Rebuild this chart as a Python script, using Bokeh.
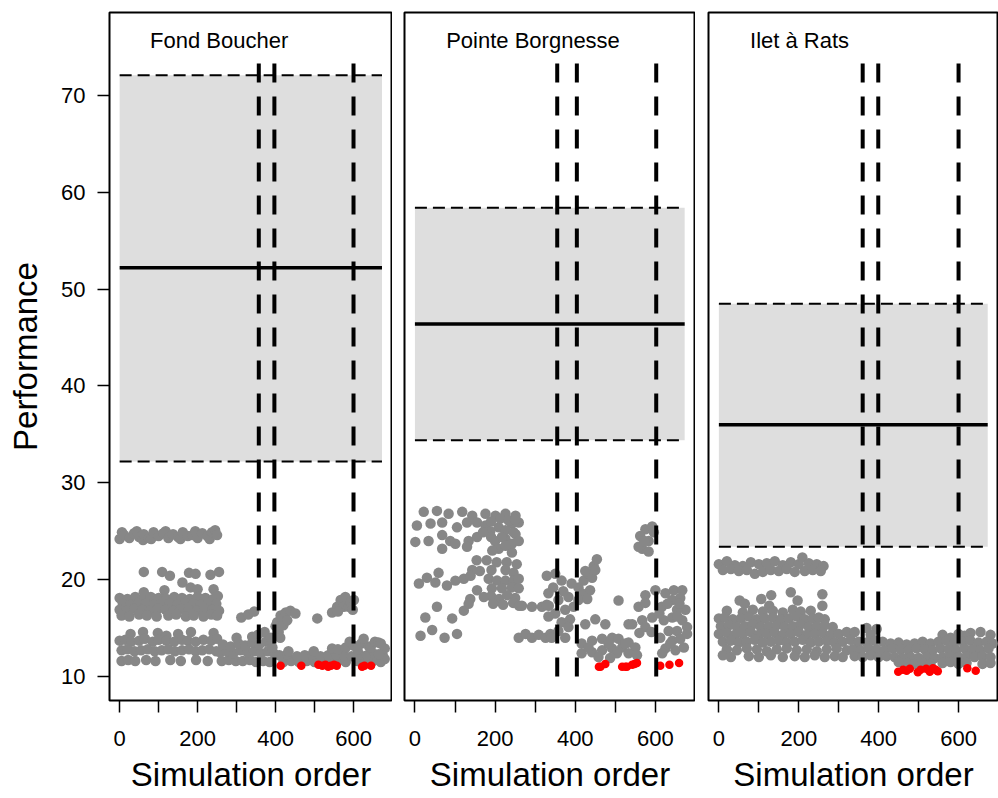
from bokeh.plotting import figure
from bokeh.layouts import row
from bokeh.models import FixedTicker, Range1d
from bokeh.core.properties import value
from bokeh.embed import file_html
from bokeh.resources import INLINE

FONT = "Liberation Sans"

SITES = ["Fond Boucher", "Pointe Borgnesse", "Ilet à Rats"]
BAND_LOW = [32.2, 34.4, 23.4]
BAND_HIGH = [72.1, 58.4, 48.5]
BAND_MEAN = [52.2, 46.4, 36.0]
BREAKS = [[357, 397, 600], [355, 404, 602], [360, 399, 600]]
N_SIM = 673
X_TICKS = [0, 200, 400, 600]
X_MINOR = [100, 300, 500]
Y_TICKS = [10, 20, 30, 40, 50, 60, 70]

# ---------------- Fond Boucher ----------------
GRAY_1 = [
    (0, 24.2), (6, 24.9), (12, 24.6), (25, 24.3), (37, 24.8), (44, 25.0), (50, 24.4), (60, 24.1),
    (62, 24.7), (75, 24.3), (81, 24.2), (87, 24.9), (100, 24.5), (112, 24.8), (118, 25.0), (125, 24.3),
    (137, 24.7), (150, 24.4), (156, 24.2), (162, 24.9), (175, 24.5), (187, 24.6), (194, 25.0), (200, 24.3),
    (212, 24.8), (225, 24.5), (231, 24.2), (237, 24.9), (245, 25.1), (250, 24.6),
    (62, 20.8), (109, 20.8), (129, 20.4), (178, 20.7), (195, 20.6), (233, 20.5), (255, 20.8),
    (161, 19.7), (182, 19.2), (200, 19.0), (241, 19.0), (62, 18.7), (115, 18.9),
    (0, 18.1), (20, 18.0), (40, 18.2), (60, 18.0), (80, 18.2), (100, 18.1), (120, 18.0), (140, 18.2),
    (160, 18.1), (180, 18.0), (200, 18.2), (220, 18.1), (240, 18.0), (252, 18.3),
    (8, 17.5), (28, 17.4), (48, 17.6), (68, 17.5), (88, 17.4), (108, 17.6), (128, 17.5), (148, 17.4),
    (168, 17.6), (188, 17.5), (208, 17.4), (228, 17.6), (248, 17.5),
    (0, 16.9), (18, 16.8), (38, 17.0), (58, 16.9), (78, 16.8), (98, 17.0), (118, 16.9), (138, 16.8),
    (158, 17.0), (178, 16.9), (198, 16.8), (218, 17.0), (238, 16.9), (255, 16.8),
    (5, 16.3), (25, 16.2), (50, 16.4), (70, 16.3), (95, 16.2), (125, 16.3), (145, 16.4), (170, 16.2),
    (190, 16.3), (215, 16.2), (235, 16.4), (250, 16.3),
    (312, 16.1), (330, 16.4), (345, 16.7),
    (28, 14.4), (60, 14.6), (98, 14.5), (120, 14.2), (150, 14.4), (183, 14.6), (241, 14.5),
    (0, 13.7), (15, 13.8), (30, 13.6), (50, 13.7), (65, 13.9), (85, 13.6), (100, 13.8), (120, 13.7),
    (140, 13.6), (160, 13.8), (175, 13.7), (195, 13.6), (215, 13.8), (235, 13.7), (250, 13.9),
    (5, 12.7), (20, 12.8), (38, 12.6), (55, 12.7), (72, 12.8), (90, 12.6), (108, 12.7), (125, 12.8),
    (142, 12.6), (160, 12.7), (178, 12.8), (195, 12.6), (212, 12.7), (230, 12.8), (248, 12.6),
    (5, 11.6), (22, 11.7), (40, 11.6), (68, 11.7), (92, 11.6), (130, 11.7), (157, 11.6), (196, 11.7), (226, 11.6),
    (262, 11.6), (280, 11.7), (298, 11.6), (316, 11.6), (334, 11.7), (350, 11.5), (368, 11.6), (385, 11.5),
    (258, 12.5), (275, 12.6), (292, 12.4), (310, 12.7), (328, 12.5), (345, 12.6), (362, 12.4), (380, 12.6), (398, 12.3),
    (265, 13.3), (285, 13.1), (305, 13.4), (322, 13.2), (340, 13.5), (358, 13.3), (375, 13.6), (392, 13.0),
    (300, 14.0), (340, 14.1), (355, 14.3), (372, 14.6), (388, 14.0),
    (400, 15.2), (404, 15.6), (408, 14.6), (413, 16.3), (417, 15.9), (420, 15.3), (426, 16.6), (430, 15.8),
    (438, 16.8), (451, 16.5), (412, 14.0),
    (507, 16.0),
    (545, 16.6), (558, 17.2), (567, 17.9), (575, 17.2), (579, 18.2), (588, 17.2), (592, 17.7), (601, 17.9),
    (598, 16.9), (560, 16.7),
    (420, 11.5), (440, 11.6), (460, 11.5), (480, 11.6), (500, 11.5), (520, 11.6), (540, 11.5), (560, 11.6),
    (580, 11.5), (610, 11.6), (630, 11.5), (650, 11.6), (670, 11.5), (680, 11.8),
    (410, 12.2), (430, 12.3), (455, 12.1), (475, 12.2), (495, 12.3), (515, 12.1), (535, 12.2), (555, 12.3),
    (575, 12.2), (595, 12.1), (615, 12.3), (635, 12.2), (655, 12.3), (675, 12.2),
    (433, 12.6), (498, 12.6), (545, 12.9), (560, 12.8), (580, 13.0), (600, 13.2), (620, 13.4), (626, 13.9),
    (640, 13.1), (644, 13.0), (655, 13.6), (664, 13.5), (670, 13.4), (680, 12.9), (665, 12.3), (590, 13.6), (610, 12.8),
]
RED_1 = [(413, 11.1), (466, 11.1), (510, 11.2), (520, 11.1), (528, 11.2), (535, 11.0), (542, 11.1),
         (550, 11.2), (557, 11.1), (622, 11.0), (628, 11.1), (645, 11.1)]

# ---------------- Pointe Borgnesse ----------------
GRAY_2 = [
    (22, 27.0), (55, 27.1), (84, 26.8), (118, 27.0), (143, 26.6), (176, 26.8), (201, 26.6), (226, 26.8), (251, 26.6),
    (5, 25.6), (39, 25.8), (68, 25.9), (105, 25.4), (130, 25.9), (155, 25.9), (176, 25.6), (209, 25.4), (242, 25.8), (259, 25.9),
    (1, 23.9), (34, 24.0), (68, 24.6), (88, 24.0), (101, 23.7), (134, 24.0), (155, 24.4), (200, 24.0), (226, 24.2),
    (251, 24.7), (209, 23.2), (68, 23.2), (130, 23.4), (193, 23.0), (242, 22.8),
    (213, 26.3), (234, 26.1), (226, 25.1), (246, 24.9), (217, 24.4), (242, 23.7), (259, 24.0), (226, 23.5),
    (190, 26.0), (188, 25.0), (190, 24.4), (170, 24.9), (250, 26.2),
    (154, 22.0), (179, 22.0), (204, 21.8), (229, 21.8), (254, 21.6),
    (143, 21.0), (162, 20.9), (191, 21.0), (226, 21.0), (246, 20.7),
    (10, 19.6), (30, 20.2), (51, 19.7), (59, 20.7), (80, 19.4), (101, 19.9), (122, 20.1), (139, 20.4),
    (184, 20.1), (205, 19.9), (226, 19.9), (247, 19.9), (259, 20.1),
    (192, 19.1), (217, 19.1), (242, 19.2), (259, 19.1),
    (190, 18.3), (210, 18.0), (230, 18.4), (250, 18.1), (195, 17.5), (220, 17.4), (245, 17.6), (260, 17.3),
    (267, 17.3), (292, 17.2), (317, 17.2), (334, 17.3),
    (138, 18.0), (155, 18.9), (172, 18.2), (134, 17.5),
    (26, 16.1), (55, 17.2), (93, 16.0), (122, 16.8), (14, 14.2), (43, 14.8), (74, 14.0), (105, 14.4),
    (259, 14.0), (276, 14.4), (292, 14.0), (309, 14.3), (326, 14.0), (338, 14.4),
    (329, 20.4), (350, 20.6), (366, 19.9), (391, 19.6), (333, 18.6), (358, 17.9), (383, 18.2), (329, 17.4),
    (350, 16.5), (375, 16.9), (396, 17.2), (333, 16.2), (366, 15.6), (387, 15.9), (358, 14.7), (383, 15.1),
    (375, 14.0), (341, 14.0), (345, 19.2), (370, 18.8),
    (408, 19.2), (421, 19.9), (433, 20.6), (446, 21.4), (454, 22.1), (425, 20.9), (442, 20.2), (416, 18.6),
    (437, 18.9), (408, 17.9), (450, 21.0), (430, 18.0),
    (508, 17.85),
    (575, 25.2), (592, 25.5), (562, 24.5), (583, 24.0), (567, 23.2), (583, 22.9), (558, 23.4), (596, 24.9), (572, 24.0),
    (575, 18.4), (600, 18.9), (625, 18.6), (646, 18.9), (667, 18.9), (642, 17.9), (662, 18.1), (675, 16.9),
    (616, 17.2), (654, 16.9), (558, 17.2), (575, 17.6), (542, 15.4), (567, 15.8), (592, 16.1), (621, 15.8),
    (642, 16.1), (667, 15.8), (679, 15.1), (575, 15.1), (633, 14.7), (654, 14.7), (612, 14.0), (642, 13.7),
    (662, 13.9), (679, 14.4), (625, 12.9), (650, 12.7), (671, 13.0), (617, 12.4), (637, 13.4), (533, 15.4),
    (630, 17.5), (660, 17.5), (610, 16.5), (655, 16.2), (590, 14.6), (560, 14.5),
    (425, 15.4), (450, 15.9), (475, 15.4), (416, 13.4), (442, 13.7), (467, 13.9), (492, 14.0), (508, 13.9),
    (533, 13.5), (550, 13.0), (416, 12.4), (442, 12.5), (467, 12.7), (492, 12.9), (517, 13.0), (533, 12.4),
    (554, 12.2), (433, 13.0), (483, 13.4), (504, 12.4), (525, 13.4), (458, 12.0), (487, 11.9),
]
RED_2 = [(459, 11.0), (463, 11.0), (475, 11.3), (517, 11.0), (525, 11.0), (529, 11.0), (542, 11.2),
         (548, 11.3), (554, 11.4), (612, 11.1), (635, 11.2), (659, 11.4)]

# ---------------- Ilet à Rats ----------------
GRAY_3 = [
    (0, 21.6), (20, 21.9), (40, 21.5), (60, 21.4), (80, 21.8), (100, 21.6), (120, 21.7), (140, 21.9),
    (160, 21.5), (180, 21.8), (200, 21.6), (209, 22.3), (225, 21.7), (245, 21.6), (262, 21.4),
    (10, 21.0), (30, 21.1), (50, 20.9), (70, 21.0), (90, 20.6), (110, 20.8), (130, 21.0), (150, 20.9),
    (170, 21.1), (190, 20.8), (215, 20.9), (235, 21.0), (255, 20.9),
    (131, 18.4), (180, 18.7), (259, 18.5), (259, 17.3), (126, 17.3), (197, 17.85), (106, 18.0), (52, 17.85), (65, 17.5),
    (20, 16.8), (60, 16.6), (85, 16.9), (110, 16.7), (135, 16.8), (160, 16.6), (185, 16.9), (205, 16.7), (230, 16.8),
    (0, 16.0), (15, 16.1), (35, 15.9), (55, 16.0), (75, 16.2), (95, 15.9), (115, 16.0), (135, 16.1),
    (155, 15.9), (175, 16.0), (195, 16.2), (215, 15.9), (235, 16.0), (250, 16.1), (265, 15.9),
    (5, 15.2), (25, 15.3), (45, 15.1), (65, 15.2), (85, 15.4), (105, 15.1), (125, 15.2), (145, 15.3),
    (165, 15.1), (185, 15.2), (205, 15.4), (225, 15.1), (245, 15.2), (265, 15.3), (285, 15.1),
    (0, 14.4), (20, 14.5), (40, 14.3), (60, 14.4), (80, 14.6), (100, 14.3), (120, 14.4), (140, 14.5),
    (160, 14.3), (180, 14.4), (200, 14.6), (220, 14.3), (240, 14.4), (260, 14.5), (280, 14.3), (300, 14.4), (320, 14.6),
    (10, 13.6), (30, 13.7), (50, 13.5), (70, 13.6), (90, 13.8), (110, 13.5), (130, 13.6), (150, 13.7),
    (170, 13.5), (190, 13.6), (210, 13.8), (230, 13.5), (250, 13.6), (270, 13.7), (290, 13.5), (310, 13.6), (330, 13.8),
    (20, 12.8), (45, 12.7), (70, 12.9), (95, 12.8), (120, 12.6), (145, 12.8), (170, 12.9), (195, 12.7),
    (220, 12.8), (245, 12.6), (270, 12.8), (295, 12.9), (320, 12.7), (340, 12.8),
    (10, 12.2), (30, 12.0), (75, 12.1), (100, 12.0), (130, 12.2), (160, 12.0), (190, 12.1), (215, 12.0),
    (240, 12.2), (265, 12.0), (290, 12.1), (310, 12.0),
    (340, 14.6), (370, 15.0), (395, 14.9), (380, 14.3), (560, 14.3), (600, 14.4), (630, 14.5), (655, 14.6),
    (680, 14.3), (615, 14.2), (580, 14.0),
    (350, 13.6), (370, 13.5), (390, 13.7), (410, 13.6), (430, 13.4), (450, 13.5), (470, 13.3), (490, 13.4),
    (510, 13.6), (530, 13.4), (550, 13.6), (570, 13.7), (590, 13.5), (610, 13.6), (630, 13.7), (650, 13.5),
    (670, 13.6), (685, 13.4),
    (335, 12.8), (355, 12.7), (375, 12.9), (395, 12.8), (415, 12.7), (435, 12.9), (455, 12.8), (475, 12.7),
    (495, 12.9), (515, 12.8), (535, 12.7), (555, 12.9), (575, 12.8), (595, 12.7), (615, 12.9), (635, 12.8),
    (655, 12.7), (675, 12.9),
    (340, 12.1), (360, 12.0), (380, 12.2), (400, 12.0), (420, 12.1), (440, 12.0), (460, 11.9), (480, 12.0),
    (500, 11.9), (520, 12.0), (540, 11.9), (560, 12.0), (580, 12.1), (600, 12.0), (620, 12.1), (640, 12.0),
    (660, 12.1), (680, 12.0),
    (470, 11.4), (490, 11.3), (510, 11.4), (530, 11.3), (560, 11.4), (580, 11.5), (600, 11.3), (620, 11.4),
    (660, 11.3), (680, 11.4), (450, 11.5),
]
RED_3 = [(449, 10.5), (461, 10.7), (470, 10.6), (478, 10.8), (498, 10.45), (505, 10.7), (519, 10.8),
         (528, 10.5), (536, 10.85), (543, 10.7), (548, 10.55), (622, 10.85), (643, 10.6)]

GRAYS = [GRAY_1, GRAY_2, GRAY_3]
REDS = [RED_1, RED_2, RED_3]

# layout (pixels)
WIDTHS = [392, 303, 303]
LEFT_BORDERS = [109, 12, 13]
HEIGHT = 798
TOP_BORDER = 12
BOTTOM_BORDER = 98
X_RANGE = (-26, 700)
Y_RANGE = (7.52, 78.57)
POINT_GRAY = "#878787"
BAND_FILL = "#DEDEDE"


def style_xaxis(p):
    ax = p.xaxis[0]
    ax.ticker = FixedTicker(ticks=X_TICKS, minor_ticks=X_MINOR)
    ax.axis_line_color = None
    ax.major_tick_in = 0
    ax.major_tick_out = 12
    ax.minor_tick_in = 0
    ax.minor_tick_out = 12
    ax.major_tick_line_color = "black"
    ax.minor_tick_line_color = "black"
    ax.major_tick_line_width = 1.5
    ax.minor_tick_line_width = 1.5
    ax.major_label_text_font = FONT
    ax.major_label_text_font_size = "22px"
    ax.major_label_text_color = "black"
    ax.major_label_standoff = 18
    ax.axis_label = "Simulation order"
    ax.axis_label_text_font = FONT
    ax.axis_label_text_font_size = "33px"
    ax.axis_label_text_font_style = "normal"
    ax.axis_label_text_color = "black"
    ax.axis_label_standoff = 7


def make_panel(i):
    first = i == 0
    p = figure(width=WIDTHS[i], height=HEIGHT,
               x_range=Range1d(*X_RANGE), y_range=Range1d(*Y_RANGE),
               output_backend="svg", toolbar_location=None,
               y_axis_location="left" if first else None,
               min_border_left=LEFT_BORDERS[i], min_border_right=0,
               min_border_top=TOP_BORDER, min_border_bottom=BOTTOM_BORDER)
    p.xgrid.visible = False
    p.ygrid.visible = False
    p.outline_line_color = "black"
    p.outline_line_width = 2
    p.background_fill_color = "white"
    p.border_fill_color = "white"

    style_xaxis(p)
    if first:
        ay = p.yaxis[0]
        ay.ticker = FixedTicker(ticks=Y_TICKS)
        ay.axis_line_color = None
        ay.major_tick_in = 0
        ay.major_tick_out = 12
        ay.minor_tick_out = 0
        ay.minor_tick_in = 0
        ay.major_tick_line_width = 1.5
        ay.major_tick_line_color = "black"
        ay.major_label_text_font = FONT
        ay.major_label_text_font_size = "22px"
        ay.major_label_text_color = "black"
        ay.major_label_standoff = 12
        ay.axis_label = "Performance"
        ay.axis_label_text_font = FONT
        ay.axis_label_text_font_size = "33px"
        ay.axis_label_text_font_style = "normal"
        ay.axis_label_text_color = "black"
        ay.axis_label_standoff = 14

    # reference band
    p.quad(left=[0], right=[N_SIM], bottom=[BAND_LOW[i]], top=[BAND_HIGH[i]],
           fill_color=BAND_FILL, line_color=None)
    p.segment(x0=[0, 0], x1=[N_SIM, N_SIM], y0=[BAND_LOW[i], BAND_HIGH[i]], y1=[BAND_LOW[i], BAND_HIGH[i]],
              line_color="black", line_width=2, line_dash="12 6")
    p.segment(x0=[0], x1=[N_SIM], y0=[BAND_MEAN[i]], y1=[BAND_MEAN[i]],
              line_color="black", line_width=3.5)

    gx = [a for a, b in GRAYS[i]]
    gy = [b for a, b in GRAYS[i]]
    p.scatter(gx, gy, size=10.5, fill_color=POINT_GRAY, line_color=None)
    rx = [a for a, b in REDS[i]]
    ry = [b for a, b in REDS[i]]
    p.scatter(rx, ry, size=8.5, fill_color="#FF0000", line_color=None)

    br = BREAKS[i]
    p.segment(x0=br, x1=br, y0=[10] * len(br), y1=[74.2] * len(br),
              line_color="black", line_width=4, line_dash="19 14")

    p.text(x=[78], y=[75.7], text=[SITES[i]], text_font=value(FONT), text_font_size="22px",
           text_align="left", text_baseline="middle", text_color="black")
    return p


panels = [make_panel(i) for i in range(3)]
layout = row(*panels, spacing=0)
open("out.html", "w").write(file_html(layout, INLINE))
